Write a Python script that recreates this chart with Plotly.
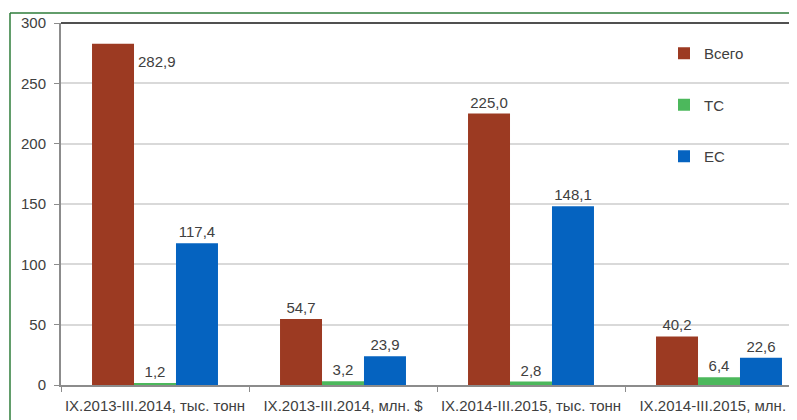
import plotly.graph_objects as go

categories = ["IX.2013-III.2014, тыс. тонн", "IX.2013-III.2014, млн. $",
              "IX.2014-III.2015, тыс. тонн", "IX.2014-III.2015, млн. $"]
series_names = ["Всего", "ТС", "ЕС"]
vsego = [282.9, 54.7, 225.0, 40.2]
ts = [1.2, 3.2, 2.8, 6.4]
es = [117.4, 23.9, 148.1, 22.6]
colors = ["#9C3A22", "#4CB85C", "#0563C0"]
y_ticks = [0, 50, 100, 150, 200, 250, 300]

# page has an 8px body margin; figure coordinates are page coordinates - 8
OFF = 8
W, H = 797, 420
L = 61 - OFF
T = 23 - OFF
plot_h = 362
B = H - T - plot_h
plot_w = W - L
cat_px = 188.0
x_max = -0.5 + plot_w / cat_px

def fmt(v):
    return f"{v:.1f}".replace(".", ",")

fig = go.Figure()
all_series = [vsego, ts, es]
for i, (name, vals) in enumerate(zip(series_names, all_series)):
    texts = [fmt(v) for v in vals]
    if i == 0:
        texts[0] = ""  # first label placed beside the bar
    fig.add_trace(go.Bar(
        x=categories, y=vals, name=name, legendgroup=name,
        marker=dict(color=colors[i], line=dict(width=0)),
        text=texts, textposition="outside", cliponaxis=False,
        textfont=dict(size=15, color="#404040"),
    ))

# label of the tallest bar sits to its right
fig.add_annotation(x=categories[0], y=vsego[0], xref="x", yref="y",
                   text=fmt(vsego[0]), showarrow=False, xanchor="left",
                   yanchor="middle", xshift=-19, yshift=-18,
                   font=dict(size=15, color="#404040"))

def px_x(p):
    return (p - OFF - L) / plot_w

def px_y(p):
    return 1 - (p - OFF - T) / plot_h

# outer green frame (left and top edges visible)
fx0 = px_x(10)
fy1 = px_y(13)
fig.add_shape(type="line", xref="paper", yref="paper",
              x0=fx0, x1=fx0, y0=px_y(430), y1=fy1,
              line=dict(color="#2E7D3A", width=1.5))
fig.add_shape(type="line", xref="paper", yref="paper",
              x0=fx0, x1=1.0, y0=fy1, y1=fy1,
              line=dict(color="#2E7D3A", width=1.5))
# top frame line
fig.add_shape(type="line", xref="paper", yref="paper", x0=0, x1=1, y0=1, y1=1,
              line=dict(color="#505050", width=2))

fig.update_layout(
    width=W, height=H,
    margin=dict(l=L, r=0, t=T, b=B, autoexpand=False),
    paper_bgcolor="white", plot_bgcolor="white",
    barmode="group", bargap=0.33, bargroupgap=0,
    font=dict(family="Liberation Sans, Arial, sans-serif", size=15, color="#404040"),
    showlegend=True,
    legend=dict(x=px_x(664), y=px_y(37), xanchor="left", yanchor="top",
                tracegroupgap=29, font=dict(size=15, color="#404040"),
                bgcolor="rgba(0,0,0,0)", itemwidth=30),
    xaxis=dict(range=[-0.5, x_max], showgrid=False, showline=True,
               linecolor="#8C8C8C", linewidth=2, ticks="outside", ticklen=5,
               tickcolor="#8C8C8C", tickson="boundaries", tickangle=0,
               automargin=False, ticklabelstandoff=6,
               tickfont=dict(size=15, color="#404040")),
    yaxis=dict(range=[0, 300], tickvals=y_ticks, showgrid=True,
               gridcolor="#D9D9D9", gridwidth=2, showline=True,
               linecolor="#8C8C8C", linewidth=2, ticks="outside", ticklen=5,
               tickcolor="#8C8C8C", zeroline=False, automargin=False,
               ticklabelstandoff=5,
               tickfont=dict(size=15, color="#404040")),
)

fig.write_html("out.html")
